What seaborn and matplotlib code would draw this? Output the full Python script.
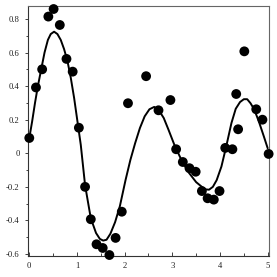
import matplotlib
matplotlib.use("Agg")
import matplotlib.pyplot as plt
import seaborn as sns
import pandas as pd
from matplotlib.ticker import MultipleLocator, FixedLocator

# scatter data
px = [0.00, 0.14, 0.27, 0.40, 0.51, 0.64, 0.78, 0.91, 1.04, 1.17, 1.29, 1.41,
      1.54, 1.68, 1.81, 1.94, 2.07, 2.45, 2.71, 2.96, 3.08, 3.22, 3.36, 3.49,
      3.62, 3.74, 3.87, 3.99, 4.11, 4.26, 4.34, 4.38, 4.51, 4.76, 4.89, 5.02]
py = [0.091, 0.392, 0.500, 0.814, 0.859, 0.764, 0.562, 0.486, 0.152, -0.200,
      -0.393, -0.542, -0.564, -0.606, -0.504, -0.348, 0.298, 0.459, 0.256,
      0.317, 0.024, -0.052, -0.089, -0.110, -0.225, -0.268, -0.276, -0.225,
      0.032, 0.024, 0.353, 0.143, 0.607, 0.262, 0.200, -0.004]

# fitted curve
cx = [0.0, 0.06, 0.12, 0.18, 0.25, 0.32, 0.39, 0.45, 0.52, 0.59, 0.66, 0.73,
      0.80, 0.87, 0.94, 1.01, 1.08, 1.17, 1.29, 1.40, 1.48, 1.55, 1.62, 1.70,
      1.80, 1.90, 2.02, 2.12, 2.22, 2.32, 2.42, 2.52, 2.62, 2.72, 2.82, 2.92,
      3.05, 3.20, 3.35, 3.50, 3.62, 3.70, 3.77, 3.85, 3.93, 4.03, 4.13, 4.24,
      4.33, 4.42, 4.50, 4.57, 4.64, 4.72, 4.82, 4.92, 5.00]
cy = [0.09, 0.19, 0.30, 0.40, 0.50, 0.60, 0.675, 0.71, 0.724, 0.71, 0.675, 0.62,
      0.55, 0.45, 0.33, 0.19, 0.05, -0.19, -0.387, -0.475, -0.51, -0.52, -0.515,
      -0.48, -0.41, -0.315, -0.158, -0.04, 0.06, 0.15, 0.22, 0.262, 0.276, 0.255,
      0.21, 0.14, 0.045, -0.045, -0.117, -0.172, -0.20, -0.215, -0.217, -0.20,
      -0.16, -0.079, 0.04, 0.18, 0.265, 0.305, 0.322, 0.322, 0.298, 0.26, 0.185,
      0.10, 0.03]

xticks = [0, 1, 2, 3, 4, 5]
yticks = [-0.6, -0.4, -0.2, 0, 0.2, 0.4, 0.6, 0.8]
ylabels = ["-0.6", "-0.4", "-0.2", "0", "0.2", "0.4", "0.6", "0.8"]

sns.set_theme(style="ticks")
plt.rcParams['font.family'] = ['Liberation Serif', 'DejaVu Serif']
plt.rcParams['axes.unicode_minus'] = False

fig = plt.figure(figsize=(2.77, 2.77), dpi=100)
ax = fig.add_axes([28 / 277, 21.3 / 277, (269.3 - 28) / 277, (271 - 21.3) / 277])

dfc = pd.DataFrame({"x": cx, "y": cy})
dfp = pd.DataFrame({"x": px, "y": py})
sns.lineplot(data=dfc, x="x", y="y", ax=ax, color="black", linewidth=1.4,
             sort=False, estimator=None)
sns.scatterplot(data=dfp, x="x", y="y", ax=ax, color="black", s=50,
                edgecolor="none", zorder=3, clip_on=False)

ax.set_xlim(-0.027, 5.034)
ax.set_ylim(-0.61, 0.877)
ax.set_xticks(xticks)
ax.set_xticklabels([str(t) for t in xticks])
ax.set_yticks(yticks)
ax.set_yticklabels(ylabels)
ax.xaxis.set_minor_locator(MultipleLocator(0.5))
ax.yaxis.set_minor_locator(MultipleLocator(0.1))
ax.set_xlabel("")
ax.set_ylabel("")

ax.tick_params(axis="x", which="major", direction="in", length=3, width=0.6,
               pad=4.5, labelsize=6.2, colors="#222222")
ax.tick_params(axis="x", which="minor", direction="in", length=2, width=0.6,
               colors="#222222")
ax.tick_params(axis="y", which="major", direction="out", length=2.5, width=0.6,
               pad=3.5, labelsize=6.2, colors="#222222")
ax.tick_params(axis="y", which="minor", direction="out", length=1.6, width=0.6,
               colors="#222222")

for side in ["left", "bottom", "top", "right"]:
    ax.spines[side].set_visible(True)
    ax.spines[side].set_linewidth(0.8)
    ax.spines[side].set_color("#333333")
ax.spines["top"].set_color("#666666")
ax.spines["right"].set_color("#666666")

fig.savefig("out.png", dpi=100)
